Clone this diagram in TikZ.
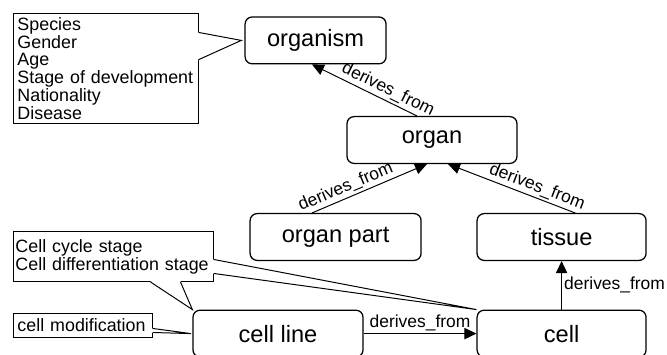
\documentclass[tikz,border=0pt]{standalone}
\usepackage{fontspec}
\setmainfont{Liberation Sans}
\usetikzlibrary{arrows.meta}

\begin{document}
\begin{tikzpicture}[
    entity/.style={rectangle, draw, line width=0.9pt, rounded corners=5pt, minimum height=1.17cm, font=\fontsize{16.8}{19}\selectfont},
    note/.style={rectangle, draw, line width=0.7pt, align=left, anchor=north west, inner xsep=0.1cm, inner ysep=1pt, font=\fontsize{12.7}{11.8}\selectfont},
    pointer/.style={line width=0.7pt},
    arrow/.style={-{Triangle[length=3mm,width=2.8mm]}, line width=0.7pt},
    rel/.style={font=\fontsize{12.4}{14}\selectfont, inner sep=1.5pt}
]
    \useasboundingbox (0,0) rectangle (16.675,-8.85);

    % Entities
    \node[entity, minimum width=3.525cm] (organism) at (7.89,-1.01) {organism};
    \node[entity, minimum width=4.25cm] (organ) at (10.8,-3.5) {organ};
    \node[entity, minimum width=4.275cm] (organpart) at (8.39,-5.925) {organ part};
    \node[entity, minimum width=4.225cm] (tissue) at (14.04,-5.925) {tissue};
    \node[entity, minimum width=4.25cm] (cellline) at (6.95,-8.34) {cell line};
    \node[entity, minimum width=4.225cm] (cell) at (14.04,-8.34) {cell};

    % Notes
    \node[note, minimum width=4.625cm, minimum height=2.75cm, text width=4.425cm] (attrs) at (0.325,-0.325) {Species\\Gender\\Age\\Stage of development\\Nationality\\Disease};
    \node[note, inner xsep=0.05cm, minimum width=5cm, minimum height=1.25cm, text width=4.9cm] (stages) at (0.325,-5.775) {Cell cycle stage\\Cell differentiation stage};
    \node[note, minimum width=3.475cm, minimum height=0.6cm, text width=3.275cm] (modif) at (0.325,-7.825) {cell modification};

    % Note pointers
    \fill[white] ([shift={(-0.02,0.9)}]attrs.east) -- ([xshift=-0.08cm]organism.west) -- ([shift={(-0.02,0.225)}]attrs.east) -- cycle;
    \draw[pointer] ([yshift=0.9cm]attrs.east) -- ([xshift=-0.08cm]organism.west) -- ([yshift=0.225cm]attrs.east);
    \fill[white] ([shift={(0.925,0.02)}]stages.south) -- (cellline.north west) -- ([shift={(1.675,0.02)}]stages.south) -- cycle;
    \draw[pointer] ([xshift=0.925cm]stages.south) -- (cellline.north west) -- ([xshift=1.675cm]stages.south);
    \fill[white] ([shift={(-0.02,-0.075)}]stages.east) -- (cell.north west) -- ([shift={(-0.02,-0.425)}]stages.east) -- cycle;
    \draw[pointer] ([yshift=-0.075cm]stages.east) -- (cell.north west) -- ([yshift=-0.425cm]stages.east);
    \fill[white] ([shift={(-0.02,-0.075)}]modif.east) -- ([xshift=-0.03cm]cellline.west) -- ([shift={(-0.02,-0.175)}]modif.east) -- cycle;
    \draw[pointer] ([yshift=-0.075cm]modif.east) -- ([xshift=-0.03cm]cellline.west) -- ([yshift=-0.175cm]modif.east);

    % Relations
    \draw[arrow] ([xshift=-0.375cm]organ.north) -- node[rel, sloped, above, pos=0.32] {derives\_from} ([xshift=-0.09cm]organism.south);
    \draw[arrow] ([xshift=-0.59cm]organpart.north) -- node[rel, sloped, above, pos=0.33] {derives\_from} ([xshift=-0.125cm]organ.south);
    \draw[arrow] ([xshift=0.34cm]tissue.north) -- node[rel, sloped, above, pos=0.33] {derives\_from} ([xshift=0.4cm]organ.south);
    \draw[arrow] (cell.north) -- node[rel, right] {derives\_from} (tissue.south);
    \draw[arrow] (cellline.east) -- node[rel, above] {derives\_from} (cell.west);
\end{tikzpicture}
\end{document}
